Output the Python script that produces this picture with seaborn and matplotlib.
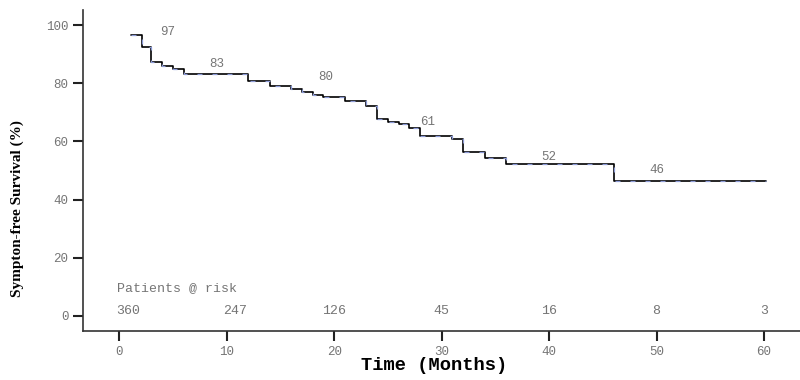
import numpy as np
import matplotlib
matplotlib.use("Agg")
import matplotlib.pyplot as plt
import pandas as pd
import seaborn as sns

# Kaplan-Meier step curve
times = [1.1, 2.1, 3.0, 4.0, 5.0, 6.0, 12.0, 14.0, 16.0, 17.0, 18.0, 19.0, 21.0,
         23.0, 24.0, 25.0, 26.0, 27.0, 28.0, 31.0, 32.0, 34.0, 36.0, 46.0, 60.2]
survival = [96.6, 92.3, 87.4, 85.8, 84.9, 83.0, 80.9, 79.1, 77.9, 76.9, 75.9, 75.4, 73.7,
            72.0, 67.7, 66.8, 65.9, 64.5, 62.0, 60.7, 56.2, 54.4, 52.1, 46.4, 46.4]

# labels written above the curve
label_x = [4.5, 9.1, 19.2, 28.7, 40.0, 50.0]
label_y = [97.6, 86.6, 82.1, 66.7, 54.6, 50.2]
label_txt = ["97", "83", "80", "61", "52", "46"]

# patients at risk
risk_times = [0, 10, 20, 30, 40, 50, 60]
risk_counts = ["360", "247", "126", "45", "16", "8", "3"]

df = pd.DataFrame({"time": times, "surv": survival})

sns.set_style("white")
plt.rcParams['font.family'] = ['Liberation Mono', 'DejaVu Sans']

fig = plt.figure(figsize=(8, 3.8), dpi=100)
ax = fig.add_axes([0.104, 0.129, 0.896, 0.845])

sns.lineplot(data=df, x="time", y="surv", drawstyle="steps-post", color="black",
             linewidth=1.2, ax=ax)
sns.lineplot(data=df, x="time", y="surv", drawstyle="steps-post", color="#8c9ad6",
             linewidth=0.9, linestyle=(0, (4, 8)), ax=ax)

grey = "#757575"
for x, y, t in zip(label_x, label_y, label_txt):
    ax.text(x, y, t, fontsize=9, color=grey, ha="center", va="center")

ax.text(-0.2, 9.6, "Patients @ risk", fontsize=9.5, color=grey, ha="left", va="center")
for x, t in zip(risk_times, risk_counts):
    ax.text(x + (0.8 if x < 20 else 0), 1.7, t, fontsize=9.5, color=grey, ha="center", va="center")

ax.set_xlim(-3.35, 63.35)
ax.set_ylim(-5.2, 105.2)
ax.set_xticks(range(0, 61, 10))
ax.set_yticks(range(0, 101, 20))
ax.tick_params(axis="both", direction="out", length=7, width=1.5, color="#222222",
               labelsize=9, labelcolor=grey, bottom=True, left=True)
sns.despine(ax=ax)
for s in ["left", "bottom"]:
    ax.spines[s].set_color("#333333")
    ax.spines[s].set_linewidth(1.2)

ax.set_xlabel("Time (Months)", fontsize=13.5, fontweight="bold", color="black",
              family=["Liberation Mono"])
ax.set_ylabel("Sympton-free Survival (%)", fontsize=11, fontweight="bold", color="black",
              family=["Liberation Serif"])
ax.yaxis.set_label_coords(-0.082, 0.38)
ax.xaxis.set_label_coords(0.49, -0.08)

fig.savefig("out.png", dpi=100)
